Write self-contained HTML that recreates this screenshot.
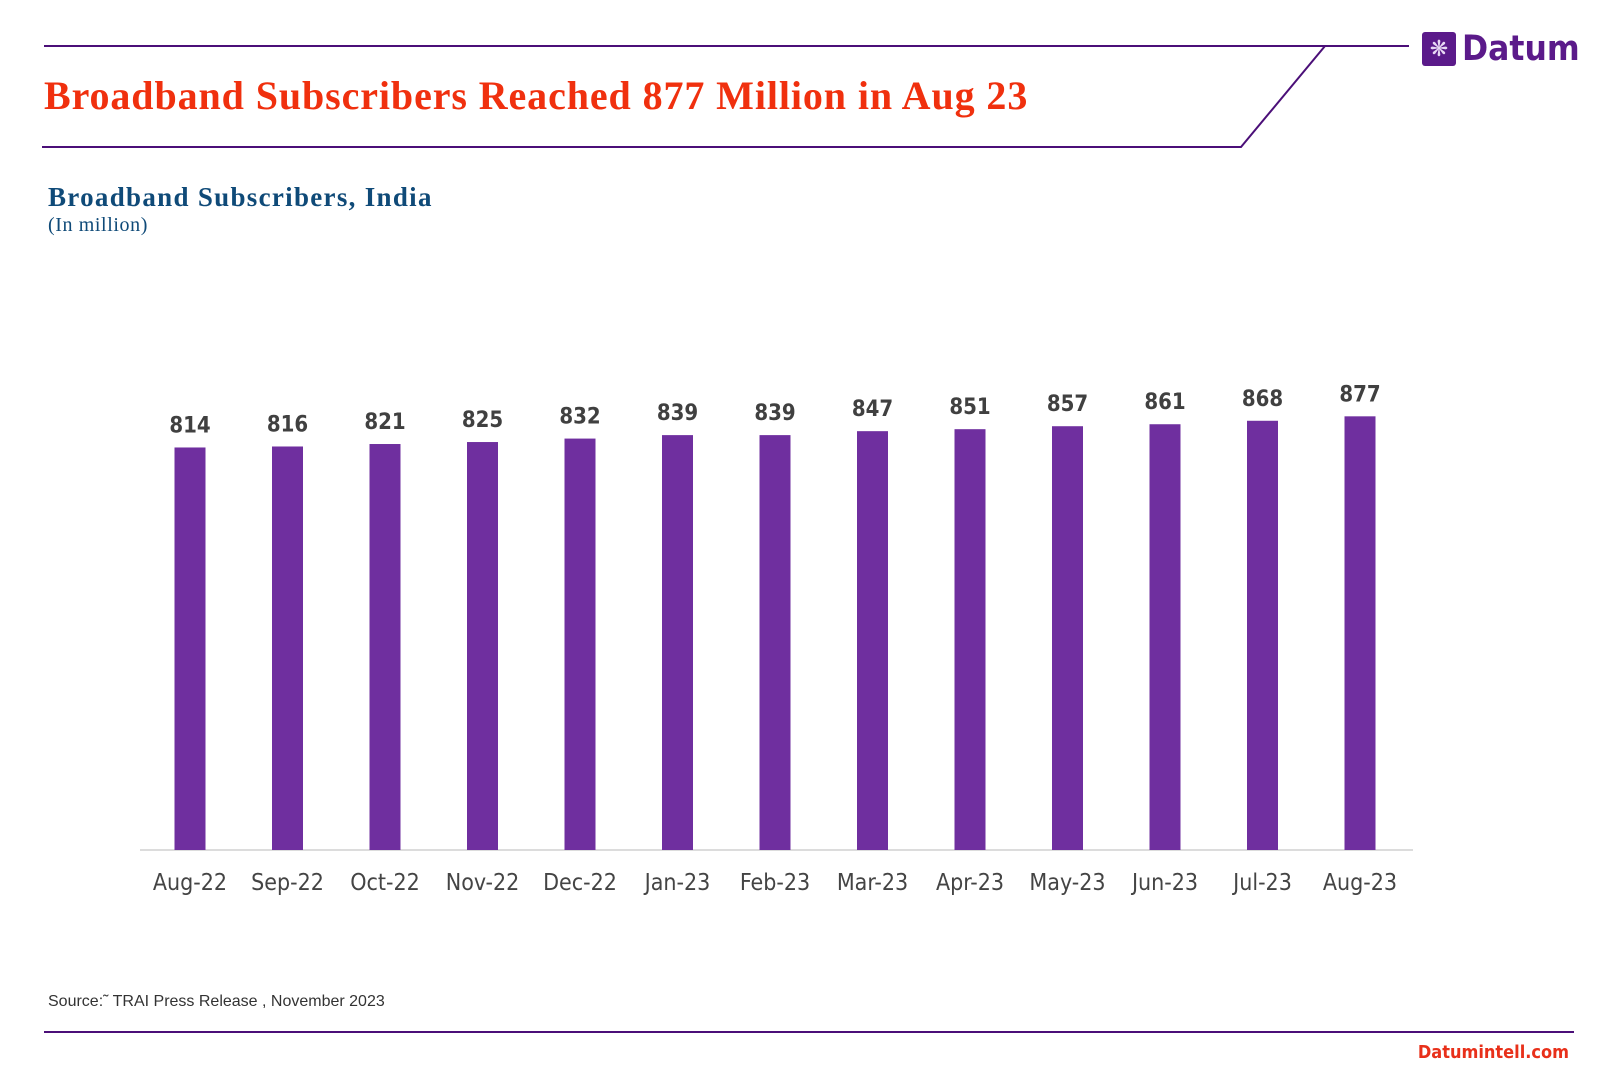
<!DOCTYPE html>
<html><head><meta charset="utf-8"><style>
body{margin:0;width:1600px;height:1090px;background:#fff;position:relative;overflow:hidden;font-family:"Liberation Sans",sans-serif}
.abs{position:absolute}
</style></head><body>
<svg class="abs" style="left:0;top:0" width="1600" height="1090">
<polyline points="44,46 1325,46 1241,147 42,147" fill="none" stroke="#4b0f78" stroke-width="2"/>
<line x1="1325" y1="46" x2="1409" y2="46" stroke="#4b0f78" stroke-width="2"/>
<line x1="44" y1="1032" x2="1574" y2="1032" stroke="#4b0f78" stroke-width="2"/>
</svg>
<div class="abs" style="left:1422px;top:29px;display:flex;align-items:center">
<div style="width:34px;height:34px;background:#5b1a8a;border-radius:3px;color:#e8d8f4;font-size:22px;line-height:34px;text-align:center">❋</div>
<span style="font-size:35px;font-weight:bold;color:#5b1a8a;margin-left:6px;font-family:'DejaVu Sans Condensed','DejaVu Sans',sans-serif">Datum</span>
</div>
<div class="abs" style="left:44px;top:72px;font-family:'Liberation Serif',serif;font-weight:bold;font-size:40px;letter-spacing:0.9px;color:#f0300e">Broadband Subscribers Reached 877 Million in Aug 23</div>
<div class="abs" style="left:48px;top:182px;font-family:'Liberation Serif',serif;font-weight:bold;font-size:27px;letter-spacing:1.3px;color:#0f4a78">Broadband Subscribers, India</div>
<div class="abs" style="left:48px;top:214px;font-family:'Liberation Serif',serif;font-size:20px;letter-spacing:0.6px;color:#0f4a78">(In million)</div>
<svg class="abs" id="chart" style="left:0;top:0" width="1600" height="1090"></svg>
<div class="abs" style="left:48px;top:993px;font-size:16px;color:#333">Source:˜ TRAI Press Release , November 2023</div>
<div class="abs" style="right:31px;top:1042px;font-size:18px;font-weight:bold;color:#e8301a;font-family:'DejaVu Sans Condensed','DejaVu Sans',sans-serif">Datumintell.com</div>
<script>
const categories=["Aug-22","Sep-22","Oct-22","Nov-22","Dec-22","Jan-23","Feb-23","Mar-23","Apr-23","May-23","Jun-23","Jul-23","Aug-23"];
const values=[814,816,821,825,832,839,839,847,851,857,861,868,877];
const svg=document.getElementById('chart');const NS='http://www.w3.org/2000/svg';
const baseY=850,pxPer=0.4945,x0=190,step=97.5,bw=31;
const y=v=>baseY-v*pxPer;const x=i=>x0+i*step;
function mk(t,a){const e=document.createElementNS(NS,t);for(const k in a)e.setAttribute(k,a[k]);svg.appendChild(e);return e;}
const ax=mk('line',{x1:140,x2:1413,y1:baseY,y2:baseY,stroke:'#d0d0d0','stroke-width':1.5});


values.forEach((v,i)=>{
const r=mk('rect',{x:x(i)-bw/2,y:y(v),width:bw,height:baseY-y(v),fill:'#6f2f9f'});


const l=mk('text',{x:x(i),y:y(v)-15,'text-anchor':'middle','font-size':22,'font-weight':'bold',fill:'#404040','font-family':'DejaVu Sans Condensed,DejaVu Sans,sans-serif'});
l.textContent=v;


const c=mk('text',{x:x(i),y:baseY+40,'text-anchor':'middle','font-size':23,fill:'#444','font-family':'DejaVu Sans Condensed,DejaVu Sans,sans-serif'});
c.textContent=categories[i];


});
</script>
</body></html>
